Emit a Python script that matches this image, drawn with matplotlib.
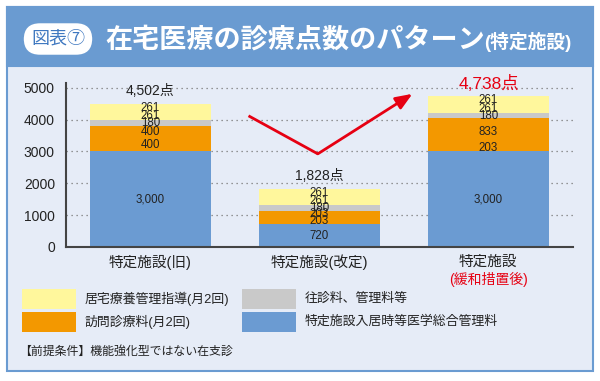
import matplotlib
matplotlib.use("Agg")
from matplotlib import pyplot as plt
from matplotlib.patches import Rectangle

plt.rcParams['font.family'] = ['Liberation Sans', 'Noto Sans CJK JP', 'DejaVu Sans']

# --- data ---
categories = ["特定施設(旧)", "特定施設(改定)", "特定施設"]
totals = [4502, 1828, 4738]
total_labels = ["4,502点", "1,828点", "4,738点"]

# stacked sub-segments, bottom to top
kanri_sogo = [3000, 720, 3000]          # 特定施設入居時等医学総合管理料
houmon_1 = [400, 203, 203]              # 訪問診療料 (1回目)
houmon_2 = [400, 203, 833]              # 訪問診療料 (2回目)
oushin = [180, 180, 180]                # 往診料、管理料等
kyotaku_1 = [261, 261, 261]             # 居宅療養管理指導 (1回目)
kyotaku_2 = [261, 261, 261]             # 居宅療養管理指導 (2回目)

segment_labels = [
    ["3,000", "720", "3,000"],
    ["400", "203", "203"],
    ["400", "203", "833"],
    ["180", "180", "180"],
    ["261", "261", "261"],
    ["261", "261", "261"],
]

yticks = [0, 1000, 2000, 3000, 4000, 5000]

# trend arrow (x in category units, y in points)
arrow_x = [0.58, 0.99, 1.55]
arrow_y = [4120, 2925, 4810]

BLUE = "#6b9bd2"
ORANGE = "#f39800"
GREY = "#c9c9c9"
YELLOW = "#fff79c"
HEADER = "#6a9bd1"
PANEL = "#e6ecf7"
RED = "#e60012"

W, H = 600, 381


def px(x, y):
    return x / W, (H - y) / H


fig = plt.figure(figsize=(6, 3.81), dpi=100)
fig.patch.set_facecolor("white")

# frame and header (below the axes)
x0, y0 = px(7, 371)
x1, y1 = px(593, 7)
fig.patches.append(Rectangle((x0, y0), x1 - x0, y1 - y0, transform=fig.transFigure,
                             facecolor=PANEL, edgecolor=HEADER, linewidth=1.5, zorder=-2))
hx, hy = px(7, 66)
fig.patches.append(Rectangle((hx, hy), x1 - hx, y1 - hy, transform=fig.transFigure,
                             facecolor=HEADER, edgecolor=HEADER, linewidth=1.5, zorder=-1))

fig.text(*px(58, 39), "図表⑦", ha="center", va="center", fontsize=13, color="#3f78c0",
         bbox=dict(boxstyle="round,pad=0.4,rounding_size=0.9", fc="white", ec="none"))
fig.text(*px(105, 48), "在宅医療の診療点数のパターン", ha="left", va="baseline",
         fontsize=19.5, fontweight="bold", color="white")
fig.text(*px(484, 48), "(特定施設)", ha="left", va="baseline",
         fontsize=13.5, fontweight="bold", color="white")

# chart
ax_l, ax_b = px(66, 247)
ax_r, ax_t = px(573, 83)
ax = fig.add_axes([ax_l, ax_b, ax_r - ax_l, ax_t - ax_b])
ax.set_facecolor("none")

segments = [kanri_sogo, houmon_1, houmon_2, oushin, kyotaku_1, kyotaku_2]
colors = [BLUE, ORANGE, ORANGE, GREY, YELLOW, YELLOW]
xs = list(range(len(categories)))
bottoms = [0] * len(categories)
for seg, col, labels in zip(segments, colors, segment_labels):
    ax.bar(xs, seg, bottom=bottoms, width=0.72, color=col, edgecolor="none", zorder=2)
    for i, v in enumerate(seg):
        ax.text(xs[i], bottoms[i] + v / 2, labels[i], ha="center", va="center",
                fontsize=8.3, color="#222222", zorder=3)
    bottoms = [b + v for b, v in zip(bottoms, seg)]

for i, t in enumerate(totals):
    if i == 2:
        ax.text(xs[i], t + 120, total_labels[i], ha="center", va="bottom",
                fontsize=12.5, color=RED, zorder=3)
    else:
        ax.text(xs[i], t + 170, total_labels[i], ha="center", va="bottom",
                fontsize=10, color="#222222", zorder=3)

ax.plot(arrow_x[:2], arrow_y[:2], color=RED, linewidth=2, solid_capstyle="butt", zorder=4)
ax.annotate("", xy=(arrow_x[2], arrow_y[2]), xytext=(arrow_x[1], arrow_y[1]),
            arrowprops=dict(arrowstyle="-|>,head_length=1.0,head_width=0.4",
                            color=RED, lw=2, shrinkA=0, shrinkB=0), zorder=4)

ax.set_xlim(-0.5, 2.5)
ax.set_ylim(0, 5150)
ax.set_yticks(yticks)
ax.set_yticklabels([str(v) for v in yticks])
ax.set_xticks([])
ax.tick_params(axis="y", length=0, pad=8, labelsize=10, labelcolor="#222222")
ax.grid(axis="y", linestyle=(0, (1, 3)), color="#777777", linewidth=0.9, zorder=1)
ax.grid(axis="x", visible=False)
for s in ["top", "right"]:
    ax.spines[s].set_visible(False)
for s in ["left", "bottom"]:
    ax.spines[s].set_color("#444444")
    ax.spines[s].set_linewidth(1.5)

# category labels
fig.text(*px(150, 262), categories[0], ha="center", va="center", fontsize=10.5, color="#222222")
fig.text(*px(319, 262), categories[1], ha="center", va="center", fontsize=10.5, color="#222222")
fig.text(*px(488, 262), categories[2], ha="center", va="center", fontsize=10.5, color="#222222")
fig.text(*px(488, 279), "(緩和措置後)", ha="center", va="center", fontsize=10, color=RED)

# legend
legend_items = [
    (22, 289, YELLOW, "居宅療養管理指導(月2回)"),
    (22, 312, ORANGE, "訪問診療料(月2回)"),
    (242, 289, GREY, "往診料、管理料等"),
    (242, 312, BLUE, "特定施設入居時等医学総合管理料"),
]
for lx, ly, col, label in legend_items:
    rx, ry = px(lx, ly + 20)
    fig.patches.append(Rectangle((rx, ry), 54 / W, 20 / H, transform=fig.transFigure,
                                 facecolor=col, edgecolor="none", zorder=1))
    fig.text(*px(lx + 63, ly + 10), label, ha="left", va="center", fontsize=9.3, color="#222222")

fig.text(*px(19, 352), "【前提条件】機能強化型ではない在支診", ha="left", va="center",
         fontsize=8.6, color="#222222")

fig.savefig("out.png", dpi=100, facecolor=fig.get_facecolor())
